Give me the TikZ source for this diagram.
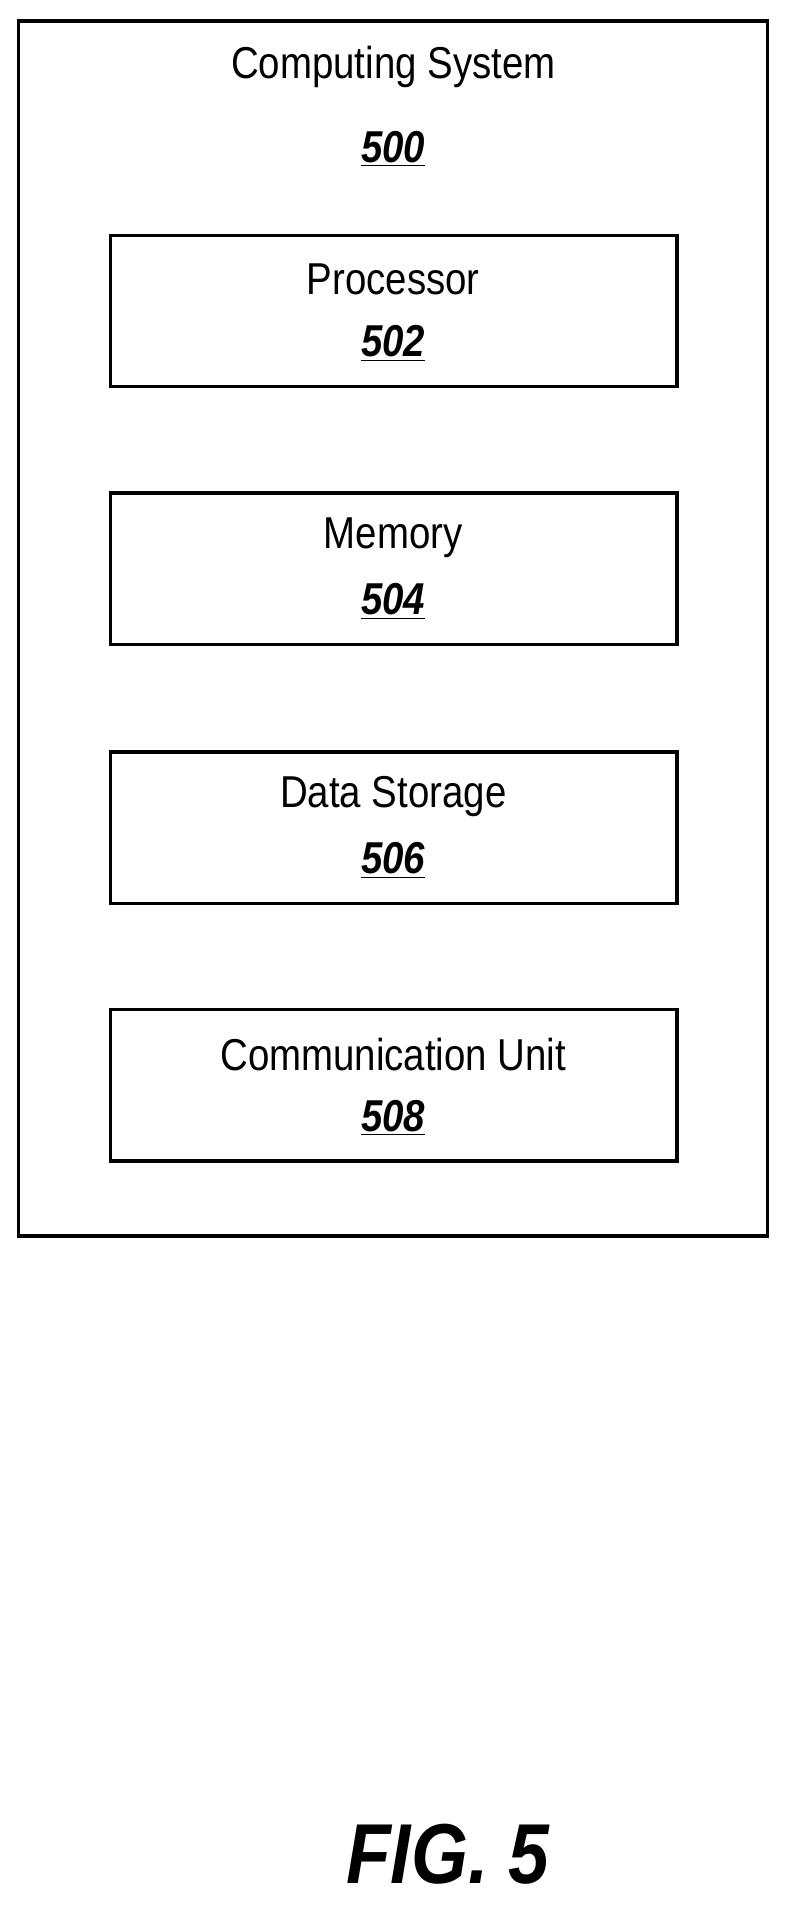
\documentclass[tikz,border=0pt]{standalone}
\usepackage{fontspec}
\setmainfont{Liberation Sans}[FakeStretch=0.86]
\usetikzlibrary{positioning}

\begin{document}
\begin{tikzpicture}[x=0.02cm, y=-0.02cm,
    unitbox/.style={draw, line width=1.6pt, minimum width=9.36cm, minimum height=2.5cm, anchor=north west},
    lbl/.style={font=\fontsize{21}{24}\selectfont},
    num/.style={font=\fontsize{21}{24}\selectfont\bfseries\itshape}]

    % page frame
    \useasboundingbox (0,0) rectangle (650,1575);

    % outer system box
    \node[draw, line width=1.6pt, minimum width=12.38cm, minimum height=20.08cm, anchor=north west] (sys) at (14,16) {};
    \node[lbl] (systitle) at (325,55) {Computing System};
    \node[num] (sysnum) at (325,123) {\underline{500}};

    % component boxes
    \foreach \name/\txt/\num/\top in {proc/Processor/502/193, mem/Memory/504/406, stor/Data Storage/506/620, comm/Communication Unit/508/833} {
        \node[unitbox] (\name) at (90,\top) {};
        \node[lbl] (\name-txt) at (325,\top+38) {\txt};
        \node[num] (\name-num) at (325,\top+91) {\underline{\num}};
    }

    \node[font=\fontsize{40}{44}\selectfont\bfseries\itshape] (fig) at (370,1532) {FIG. 5};
\end{tikzpicture}
\end{document}
